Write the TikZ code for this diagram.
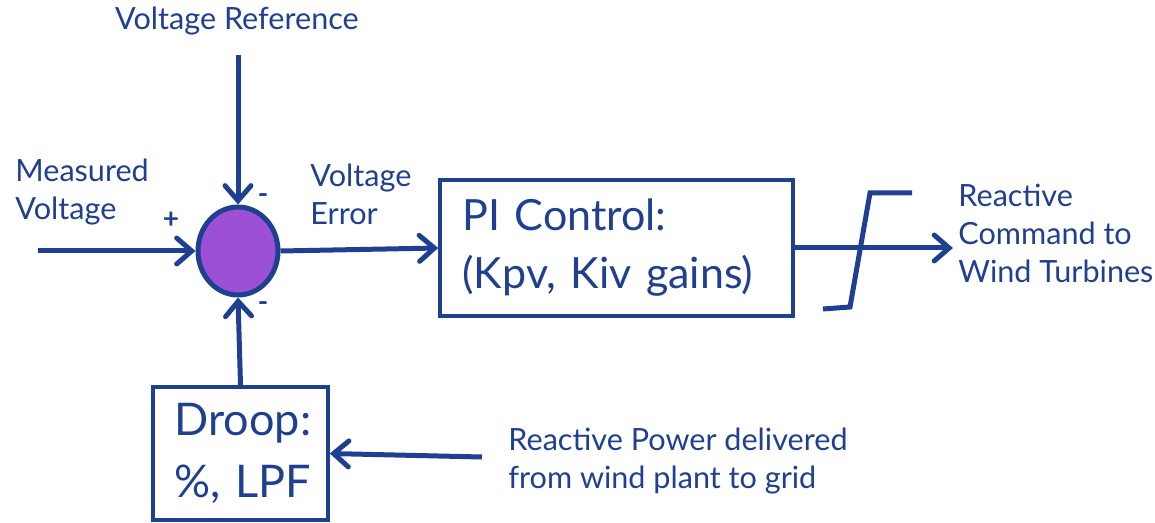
\documentclass[tikz,border=0pt]{standalone}
\usepackage{fontspec}
\setmainfont{Lato}
\usetikzlibrary{arrows.meta,shapes.geometric,positioning}
\definecolor{gebl}{RGB}{31,64,145}
\definecolor{sumfill}{RGB}{155,80,214}
\tikzset{arr/.style={-{Straight Barb[length=7.5pt,width=13pt,line cap=round]}, line width=2.5pt, draw=gebl}}
\tikzset{lbl/.style={font=\fontsize{15.3}{19}\selectfont, text=gebl, align=left, inner sep=0pt}}
\tikzset{blk/.style={draw=gebl, line width=1.8pt, text=gebl, align=left,
                     font=\fontsize{21.5}{29}\selectfont, inner xsep=11pt}}
\tikzset{sgn/.style={lbl, font=\fontsize{14}{14}\selectfont\bfseries}}

\begin{document}
\begin{tikzpicture}[x=0.5pt, y=-0.5pt]
  \useasboundingbox (0,0) rectangle (1155,523);

  \node[ellipse, draw=gebl, fill=sumfill, line width=2.5pt,
        minimum width=40pt, minimum height=44pt] (sum) at (238,251) {};
  \node[blk, minimum width=176.5pt, minimum height=68pt, text width=154pt] (pi) at (616.5,248)
    {PI Control:\\(Kpv, Kiv gains)};
  \node[blk, minimum width=87.5pt, minimum height=66.5pt, text width=66pt, inner xsep=10.5pt,
        font=\fontsize{22.5}{31}\selectfont] (droop) at (240.5,453.5)
    {Droop:\\\mbox{\%, LPF}};

  % inputs
  \coordinate (vref) at (238,55);
  \coordinate (vmeas) at (38,251);
  \coordinate (qin) at (482,457);
  \coordinate (cmd) at (953,248);

  \node[lbl, anchor=center] (reflbl) at (237,21) {Voltage Reference};
  \node[lbl, anchor=west] (measlbl) at (15,192) {Measured\\Voltage};
  \node[lbl, anchor=west] (errlbl) at (310,194) {Voltage\\Error};
  \node[lbl, anchor=west] (cmdlbl) at (958,233) {Reactive\\Command to\\Wind Turbines};
  \node[lbl, anchor=west] (qlbl) at (508,461) {Reactive Power delivered\\from wind plant to grid};

  \node[sgn] (plus) at (171,220) {+};
  \node[sgn] (mtop) at (263,199) {-};
  \node[sgn] (mbot) at (263,307) {-};

  \draw[arr] (vref) -- (sum.north);
  \draw[arr] (vmeas) -- (sum.west);
  \draw[arr] (droop.north) -- (sum.south);
  \draw[arr] (sum.east) -- (pi.west);
  \draw[arr] (pi.east) -- (cmd);
  \draw[arr] (qin) -- (droop.east);

  % limiter
  \draw[draw=gebl, line width=2.5pt] (823,309) -- (850,307) -- (870,193) -- (912,193);
\end{tikzpicture}
\end{document}
